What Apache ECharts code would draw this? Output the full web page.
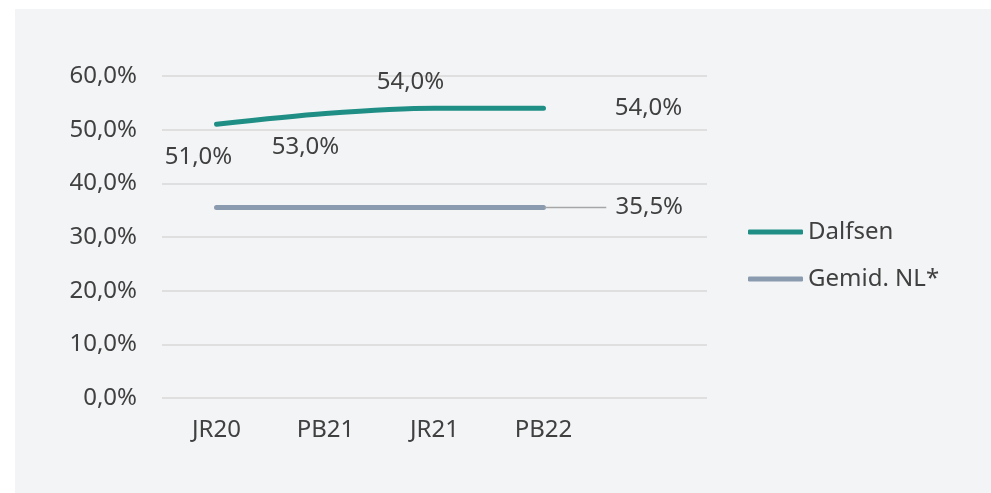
<!DOCTYPE html>
<html><head><meta charset="utf-8">
<script src="https://cdn.jsdelivr.net/npm/echarts@6/dist/echarts.min.js"></script>
<style>
html,body{margin:0;padding:0;background:#fff;}
#wrap{position:absolute;left:15px;top:9px;width:976px;height:484px;background:#f3f4f6;}
#c{position:absolute;left:-15px;top:-9px;width:991px;height:493px;}
</style></head>
<body><div id="wrap"><div id="c"></div></div>
<script>
const categories = ['JR20', 'PB21', 'JR21', 'PB22', ''];
const dalfsen = [51.0, 53.0, 54.0, 54.0];
const gemidNL = [35.5, 35.5, 35.5, 35.5];
const seriesNames = ['Dalfsen', 'Gemid. NL*'];
const yTicks = [0, 10, 20, 30, 40, 50, 60];

const FONT = 'Noto Sans';
const FS = 24;
const TXT = '#404040';
const fmt = v => v.toFixed(1).replace('.', ',') + '%';

// label offsets (style only) for Dalfsen points
const dOffsets = [[-18, 33], [-20, 34], [-24, -26], [105, 0]];

const chart = echarts.init(document.getElementById('c'));
chart.setOption({
  animation: false,
  backgroundColor: 'transparent',
  textStyle: {fontFamily: FONT},
  grid: {left: 162, right: 284, top: 76, bottom: 95},
  legend: {
    orient: 'vertical', left: 748, top: 220, padding: 0, itemWidth: 55, itemHeight: 5, itemGap: 23,
    icon: 'roundRect',
    textStyle: {fontFamily: FONT, fontSize: FS, color: TXT, lineHeight: 24},
    data: seriesNames
  },
  xAxis: {
    type: 'category', data: categories, boundaryGap: true,
    axisLine: {show: false}, axisTick: {show: false},
    axisLabel: {fontFamily: FONT, fontSize: FS, color: TXT, margin: 20}
  },
  yAxis: {
    type: 'value', min: yTicks[0], max: yTicks[yTicks.length - 1], interval: 10,
    axisLine: {show: false}, axisTick: {show: false},
    axisLabel: {fontFamily: FONT, fontSize: FS, color: TXT, margin: 25, formatter: v => fmt(v)},
    splitLine: {lineStyle: {color: '#d9d9d9', width: 1.5}}
  },
  series: [
    {
      name: seriesNames[0], type: 'line', data: dalfsen.map((v, i) => ({
        value: v,
        label: {show: true, position: 'inside', offset: dOffsets[i]}
      })),
      symbol: 'circle', symbolSize: 2, smooth: 0.3,
      itemStyle: {color: '#1f8f86'},
      lineStyle: {color: '#1f8f86', width: 5, cap: 'round', join: 'round'},
      label: {fontFamily: FONT, fontSize: FS, color: TXT, formatter: p => fmt(p.value)}
    },
    {
      name: seriesNames[1], type: 'line', data: gemidNL.map((v, i) => ({
        value: v,
        label: {show: i === gemidNL.length - 1, position: 'right', distance: 8}
      })),
      symbol: 'circle', symbolSize: 2,
      itemStyle: {color: '#8a9bb0'},
      lineStyle: {color: '#8a9bb0', width: 5, cap: 'round'},
      label: {fontFamily: FONT, fontSize: FS, color: TXT, padding: [0, 0, 0, 9],
              backgroundColor: '#f3f4f6', formatter: p => fmt(p.value)},
      labelLine: {show: true, lineStyle: {color: '#a6a6a6', width: 1.5}},
      labelLayout: p => p.dataIndex === gemidNL.length - 1 ? {dx: 54} : {}
    }
  ]
});
</script></body></html>
